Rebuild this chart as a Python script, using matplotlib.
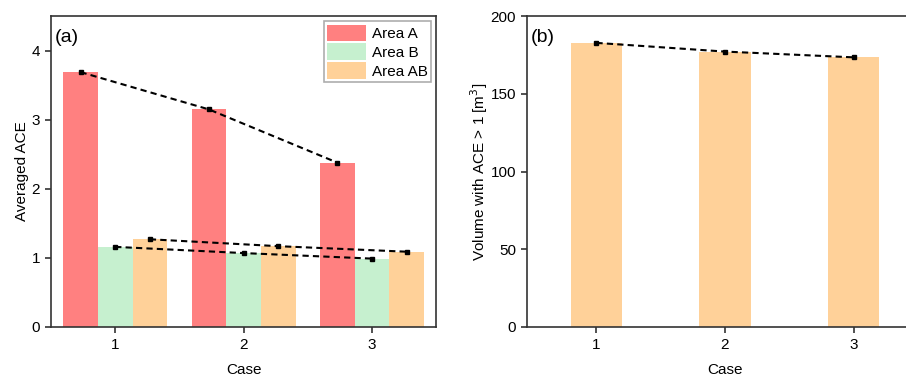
import numpy as np
import matplotlib
matplotlib.use('Agg')
from matplotlib import pyplot as plt

plt.rcParams['font.family'] = ['Liberation Sans', 'DejaVu Sans']

cases = [1, 2, 3]
area_a = [3.69, 3.15, 2.38]
area_b = [1.16, 1.07, 0.99]
area_ab = [1.27, 1.17, 1.09]
volume = [182.8, 177.2, 173.5]

col_a = '#FF8080'
col_b = '#C6F0CF'
col_ab = '#FFD199'
edge = '#333333'

fig = plt.figure(figsize=(9.06, 3.8), dpi=100)
ax1 = fig.add_axes([0.0563, 0.1395, 0.425, 0.818])
ax2 = fig.add_axes([0.5817, 0.1395, 0.437, 0.818])

x = np.array(cases)
w = 0.27
for off, vals, c, lab in [(-w, area_a, col_a, 'Area A'),
                          (0, area_b, col_b, 'Area B'),
                          (w, area_ab, col_ab, 'Area AB')]:
    ax1.bar(x + off, vals, width=w, color=c, label=lab, zorder=1)
    ax1.plot(x + off, vals, '--', color='black', lw=1.5, dashes=(3, 2),
             marker='s', ms=3, zorder=3)

ax1.set_xlim(0.5, 3.5)
ax1.set_ylim(0, 4.5)
ax1.set_xticks(cases)
ax1.set_yticks([0, 1, 2, 3, 4])
ax1.set_xlabel('Case', fontsize=11, labelpad=8)
ax1.set_ylabel('Averaged ACE', fontsize=11, labelpad=2)
ax1.text(0.01, 0.96, '(a)', transform=ax1.transAxes, fontsize=14,
         va='top', ha='left')
leg = ax1.legend(loc='upper right', fontsize=11, frameon=True, fancybox=False,
                 handlelength=2.5, handleheight=1.3, handletextpad=0.4,
                 labelspacing=0.15, borderpad=0.2, borderaxespad=0.35)
leg.get_frame().set_edgecolor('#999999')
leg.get_frame().set_linewidth(1.2)

ax2.bar(x, volume, width=0.4, color=col_ab, zorder=1)
ax2.plot(x, volume, '--', color='black', lw=1.5, dashes=(3, 2),
         marker='s', ms=3, zorder=3)
ax2.set_xlim(0.46, 3.54)
ax2.set_ylim(0, 200)
ax2.set_xticks(cases)
ax2.set_yticks([0, 50, 100, 150, 200])
ax2.set_xlabel('Case', fontsize=11, labelpad=8)
ax2.set_ylabel('Volume with ACE > 1 [m$^3$]', fontsize=11, labelpad=0)
ax2.text(0.01, 0.96, '(b)', transform=ax2.transAxes, fontsize=14,
         va='top', ha='left')

for ax in (ax1, ax2):
    for s in ax.spines.values():
        s.set_color(edge)
        s.set_linewidth(1.2)
    ax.tick_params(direction='out', length=4, width=1.2, color=edge,
                   labelsize=11, pad=4)

fig.savefig('out.png', dpi=100)
